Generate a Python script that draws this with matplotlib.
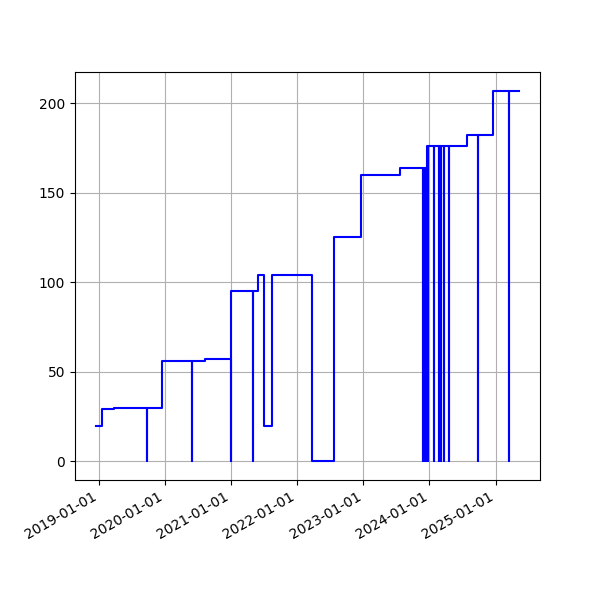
import matplotlib
matplotlib.use("Agg")
import matplotlib.pyplot as plt
import matplotlib.dates as mdates
import numpy as np

# (date, value) change points; a spike to 0 is a 0 entry followed by the restored value on the same date
dates = [
    "2018-12-18", "2019-01-18", "2019-03-25",
    "2019-09-27", "2019-09-27",
    "2019-12-17",
    "2020-05-30", "2020-05-30",
    "2020-08-10",
    "2021-01-01", "2021-01-01",
    "2021-05-01", "2021-05-01",
    "2021-06-01", "2021-07-02", "2021-08-13",
    "2022-03-25", "2022-07-24",
    "2022-12-21", "2023-07-25",
    "2023-11-29", "2023-11-29",
    "2023-12-06", "2023-12-06",
    "2023-12-12", "2023-12-12",
    "2023-12-17", "2023-12-17",
    "2023-12-23", "2023-12-23",
    "2024-01-26", "2024-01-26",
    "2024-02-21", "2024-02-21",
    "2024-03-07", "2024-03-07",
    "2024-03-24", "2024-03-24",
    "2024-04-21", "2024-04-21",
    "2024-07-25",
    "2024-09-23", "2024-09-23",
    "2024-12-18",
    "2025-03-15", "2025-03-15",
    "2025-05-09",
]
values = [
    20, 29, 30,
    0, 30,
    56,
    0, 56,
    57,
    0, 95,
    0, 95,
    104, 20, 104,
    0, 125,
    160, 164,
    0, 164,
    0, 164,
    0, 164,
    0, 176,
    0, 176,
    0, 176,
    0, 176,
    0, 176,
    0, 176,
    0, 176,
    182,
    0, 182,
    207,
    0, 207,
    207,
]

x = np.array(dates, dtype="datetime64[D]").astype("O")

fig, ax = plt.subplots(figsize=(6, 6), dpi=100)
ax.plot(x, values, color="blue", drawstyle="steps-post", linewidth=1.5)
ax.grid(True)
ax.xaxis.set_major_locator(mdates.YearLocator())
ax.xaxis.set_major_formatter(mdates.DateFormatter("%Y-%m-%d"))
fig.autofmt_xdate()
fig.savefig("out.png", dpi=100)
